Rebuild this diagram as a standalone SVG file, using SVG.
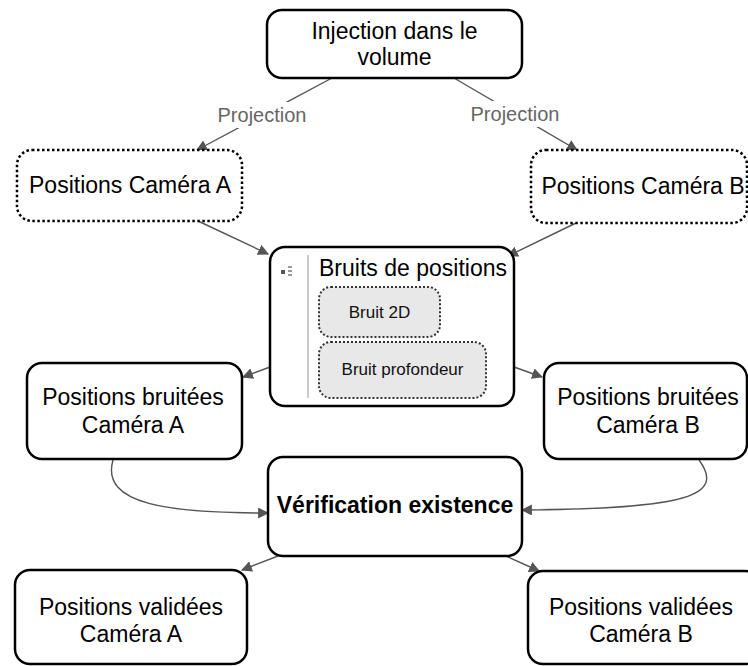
<svg xmlns="http://www.w3.org/2000/svg" width="748" height="666" viewBox="0 0 748 666">
<defs>
<marker id="arr" viewBox="0 0 10 10" refX="9" refY="5" markerWidth="11" markerHeight="11" markerUnits="userSpaceOnUse" orient="auto">
<path d="M0,0 L10,5 L0,10 z" fill="#555"/>
</marker>
<style>
.box{fill:#fff;stroke:#000;stroke-width:2.5}
.dot{fill:#fff;stroke:#000;stroke-width:2.5;stroke-dasharray:2.5 2.5}
.sub{fill:#e8e8e8;stroke:#333;stroke-width:2;stroke-dasharray:2 2}
.t{font-family:"Liberation Sans",Arial,sans-serif;font-size:23px;fill:#000;text-anchor:middle}
.b{font-weight:bold}
.s{font-family:"Liberation Sans",Arial,sans-serif;font-size:17px;fill:#111;text-anchor:middle}
.lbl{font-family:"Liberation Sans",Arial,sans-serif;font-size:20px;fill:#666;text-anchor:middle}
.c{fill:none;stroke:#555;stroke-width:1.4;marker-end:url(#arr)}
</style>
</defs>
<g id="connectors">
<path class="c" d="M332,78 L197,150"/>
<path class="c" d="M454,78 L577,150"/>
<path class="c" d="M198,221 L268,254"/>
<path class="c" d="M576,223 L508,256"/>
<path class="c" d="M270,367 L243,377"/>
<path class="c" d="M514,367 L542,377"/>
<path class="c" d="M113,460 C100,505 170,513 268,513"/>
<path class="c" d="M699,460 C725,495 690,509 522,510"/>
<path class="c" d="M278,556 L242,570"/>
<path class="c" d="M506,556 L539,571"/>
<rect x="216" y="102" width="93" height="26" fill="#fff"/>
<text class="lbl" x="262" y="122">Projection</text>
<rect x="469" y="101" width="93" height="26" fill="#fff"/>
<text class="lbl" x="515" y="121">Projection</text>
</g>
<g id="injection">
<rect class="box" x="267" y="10" width="255" height="68" rx="15"/>
<text class="t" x="394.5" y="39">Injection dans le</text>
<text class="t" x="394.5" y="65">volume</text>
</g>
<g id="camA">
<rect class="dot" x="17" y="150" width="225" height="71" rx="15"/>
<text class="t" x="130" y="193">Positions Caméra A</text>
</g>
<g id="camB">
<rect class="dot" x="531" y="150" width="216" height="73" rx="15"/>
<text class="t" x="643" y="194">Positions Caméra B</text>
</g>
<g id="bruits">
<rect class="box" x="270" y="247" width="244" height="159" rx="15"/>
<rect x="281" y="270" width="4" height="4" fill="#555"/>
<rect x="288" y="266" width="4" height="2" fill="#999"/>
<rect x="288" y="270" width="4" height="2" fill="#999"/>
<rect x="288" y="274" width="4" height="2" fill="#999"/>
<line x1="308" y1="255" x2="308" y2="398" stroke="#bbb" stroke-width="1.5"/>
<text class="t" x="413" y="276">Bruits de positions</text>
<g id="bruit2d">
<rect class="sub" x="319" y="287" width="121" height="50" rx="12"/>
<text class="s" x="379.5" y="318">Bruit 2D</text>
</g>
<g id="bruitprof">
<rect class="sub" x="319" y="342" width="167" height="56" rx="12"/>
<text class="s" x="402.5" y="375">Bruit profondeur</text>
</g>
</g>
<g id="bruiteesA">
<rect class="box" x="27" y="363" width="215" height="96" rx="15"/>
<text class="t" x="133" y="405">Positions bruitées</text>
<text class="t" x="133" y="433">Caméra A</text>
</g>
<g id="bruiteesB">
<rect class="box" x="544" y="363" width="203" height="96" rx="15"/>
<text class="t" x="648" y="405">Positions bruitées</text>
<text class="t" x="648" y="433">Caméra B</text>
</g>
<g id="verif">
<rect class="box" x="268" y="457" width="254" height="99" rx="15"/>
<text class="t b" x="395" y="513">Vérification existence</text>
</g>
<g id="valideesA">
<rect class="box" x="15" y="570" width="232" height="94" rx="15"/>
<text class="t" x="131" y="615">Positions validées</text>
<text class="t" x="131" y="642">Caméra A</text>
</g>
<g id="valideesB">
<rect class="box" x="528" y="571" width="232" height="93" rx="15"/>
<text class="t" x="641" y="615">Positions validées</text>
<text class="t" x="641" y="642">Caméra B</text>
</g>
</svg>
